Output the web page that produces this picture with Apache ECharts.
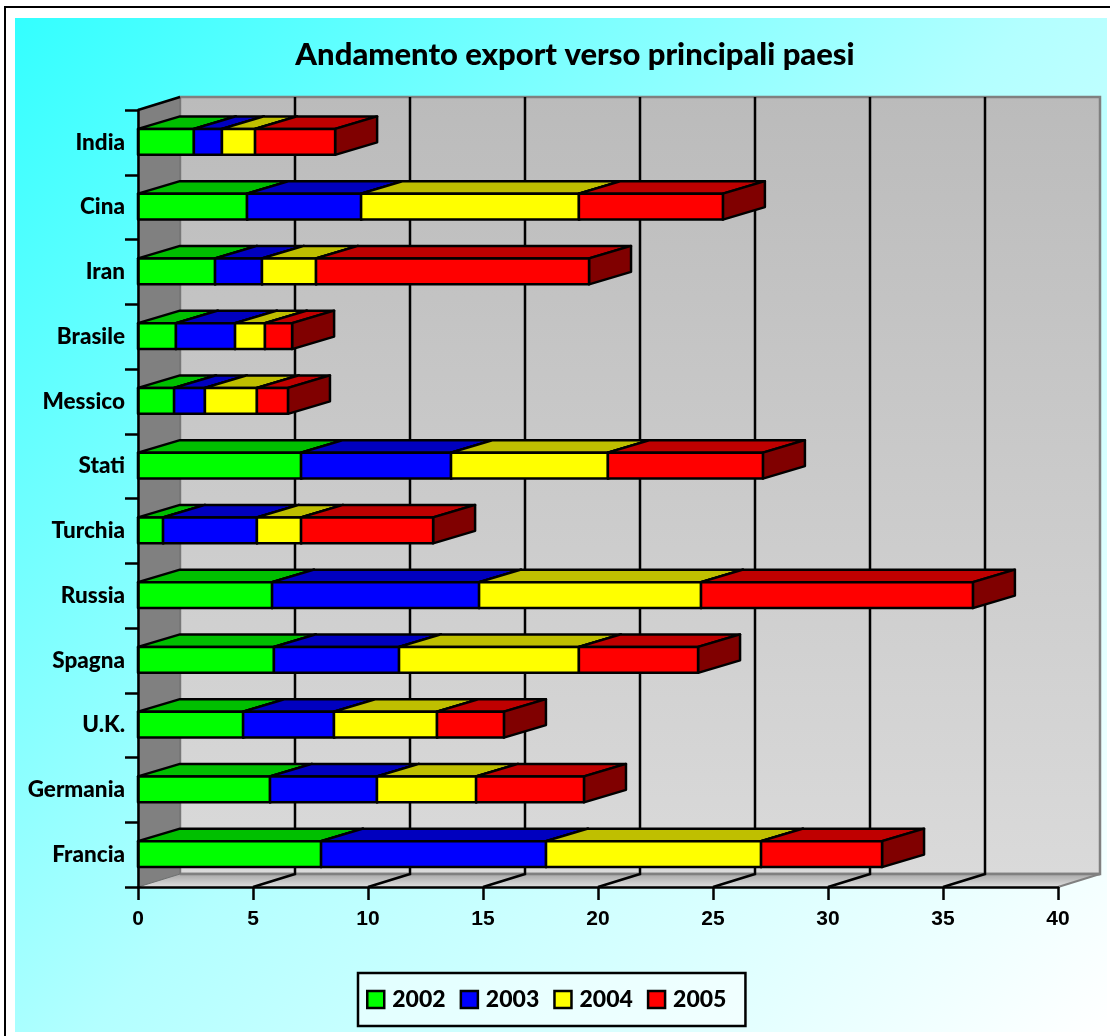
<!DOCTYPE html>
<html lang="it">
<head>
    <meta charset="UTF-8">
    <title>Andamento export verso principali paesi</title>
    <script src="https://cdn.jsdelivr.net/npm/echarts@6/dist/echarts.min.js"></script>
    <style>
        html, body { margin: 0; padding: 0; background: #fff; }
        #chart { width: 1110px; height: 1036px; }
    </style>
</head>
<body>
    <div id="chart"></div>
    <script>
        // paesi dal basso verso l'alto, come sull'asse
        var paesi = ['Francia', 'Germania', 'U.K.', 'Spagna', 'Russia', 'Turchia', 'Stati', 'Messico', 'Brasile', 'Iran', 'Cina', 'India'];
        var anni = ['2002', '2003', '2004', '2005'];

        var v2002 = [7.96, 5.74, 4.57, 5.91, 5.83, 1.09, 7.09, 1.57, 1.65, 3.35, 4.74, 2.43];
        var v2003 = [9.78, 4.65, 3.95, 5.44, 9.00, 4.08, 6.52, 1.34, 2.57, 2.04, 4.96, 1.22];
        var v2004 = [9.35, 4.31, 4.48, 7.82, 9.65, 1.92, 6.82, 2.26, 1.30, 2.35, 9.47, 1.44];
        var v2005 = [5.26, 4.69, 2.91, 5.18, 11.82, 5.74, 6.74, 1.35, 1.18, 11.87, 6.26, 3.48];

        var valori = [v2002, v2003, v2004, v2005];
        var griglia = [5, 10, 15, 20, 25, 30, 35];

        var coloriFronte = ['#00ff00', '#0000ff', '#ffff00', '#ff0000'];
        var coloriSopra = ['#00bf00', '#0000bf', '#bfbf00', '#bf0000'];
        var coloriLato = ['#008000', '#000080', '#808000', '#800000'];

        // spostamento della profondita' 3D
        var DX = 42, DY = -13, BAR_DY = -12.5;

        var chart = echarts.init(document.getElementById('chart'));

        function poly(points, style, z2) {
            return { type: 'polygon', shape: { points: points }, style: style, z2: z2 || 0 };
        }

        // pareti e griglia dietro le barre
        function disegnaPareti(params, api) {
            var r = params.coordSys;
            var l = r.x, t = r.y, b = r.y + r.height, w = r.width;
            var fondo = new echarts.graphic.LinearGradient(0, 0, 0, 1, [
                { offset: 0, color: '#bbbbbb' }, { offset: 1, color: '#dadada' }
            ]);
            var pav = new echarts.graphic.LinearGradient(0, 0, 0, 1, [
                { offset: 0, color: '#a8a8a8' }, { offset: 1, color: '#dedede' }
            ]);
            var figli = [
                { type: 'rect', shape: { x: l + DX, y: t + DY, width: w, height: r.height },
                  style: { fill: fondo, stroke: '#808080', lineWidth: 2.5 } },
                poly([[l, b], [l + DX, b + DY], [l + w + DX, b + DY], [l + w, b]], { fill: pav }),
                { type: 'line', shape: { x1: l + DX, y1: b + DY, x2: l + w + DX, y2: b + DY },
                  style: { stroke: '#808080', lineWidth: 2.5 } },
                { type: 'line', shape: { x1: l + w, y1: b, x2: l + w + DX, y2: b + DY },
                  style: { stroke: '#808080', lineWidth: 2 } },
                poly([[l, t], [l + DX, t + DY], [l + DX, b + DY], [l, b]], { fill: '#808080', stroke: '#6e6e6e', lineWidth: 1 }),
                { type: 'line', shape: { x1: l, y1: t, x2: l + DX, y2: t + DY },
                  style: { stroke: '#000', lineWidth: 2.5 } }
            ];
            griglia.forEach(function (g) {
                var x = api.coord([g, 0])[0];
                figli.push({ type: 'polyline', shape: { points: [[x + DX, t + DY], [x + DX, b + DY], [x, b]] },
                    style: { fill: null, stroke: '#000', lineWidth: 2.5 } });
            });
            return { type: 'group', children: figli, silent: true };
        }

        function disegnaBarra(params, api) {
            var k = params.seriesIndex - 1;
            var i = api.value(2);
            var a = api.coord([api.value(0), i]);
            var c = api.coord([api.value(1), i]);
            var h = api.size([0, 1])[1] * 0.4;
            var x0 = a[0], x1 = c[0], y0 = a[1] - h / 2 - 0.5, y1 = y0 + h;
            var tratto = { stroke: '#000', lineWidth: 2.5, lineJoin: 'round' };
            function st(col) { return Object.assign({ fill: col }, tratto); }
            return {
                type: 'group',
                children: [
                    poly([[x0, y0], [x0 + DX, y0 + BAR_DY], [x1 + DX, y0 + BAR_DY], [x1, y0]], st(coloriSopra[k])),
                    poly([[x1, y0], [x1 + DX, y0 + BAR_DY], [x1 + DX, y1 + BAR_DY], [x1, y1]], st(coloriLato[k])),
                    { type: 'rect', shape: { x: x0, y: y0, width: x1 - x0, height: h }, style: st(coloriFronte[k]) }
                ]
            };
        }

        var serie = [{
            name: 'pareti',
            type: 'custom',
            renderItem: disegnaPareti,
            data: [[0, 0]],
            encode: { x: 0, y: 1 },
            silent: true,
            z: 1
        }];

        // ogni anno parte dove finisce il precedente
        var cumulati = paesi.map(function () { return 0; });
        anni.forEach(function (anno, k) {
            var dati = valori[k].map(function (v, i) {
                var da = cumulati[i];
                cumulati[i] = da + v;
                return [da, cumulati[i], i];
            });
            serie.push({
                name: anno,
                type: 'custom',
                renderItem: disegnaBarra,
                data: dati,
                encode: { x: [0, 1], y: 2 },
                itemStyle: { color: coloriFronte[k] },
                z: 3 + k
            });
        });

        var option = {
            animation: false,
            backgroundColor: '#fff',
            title: {
                text: 'Andamento export verso principali paesi',
                left: 570,
                top: 34,
                textAlign: 'center',
                textStyle: { fontFamily: 'Lato', fontWeight: 900, fontSize: 31, color: '#000' }
            },
            legend: {
                data: anni,
                left: 358,
                top: 973,
                padding: [15, 19, 15, 8],
                itemGap: 14,
                itemWidth: 17,
                itemHeight: 17,
                backgroundColor: 'rgba(255,255,255,0.5)',
                borderColor: '#000',
                borderWidth: 2.5,
                icon: 'rect',
                itemStyle: { borderColor: '#000', borderWidth: 2.5 },
                textStyle: { fontFamily: 'Lato', fontWeight: 900, fontSize: 23, color: '#000', padding: [0, 0, 0, 3] }
            },
            grid: { left: 138, top: 110, width: 920, height: 777 },
            xAxis: {
                type: 'value',
                min: 0,
                max: 40,
                interval: 5,
                z: 10,
                splitLine: { show: false },
                axisLine: { show: true, lineStyle: { color: '#000', width: 2.5 } },
                axisTick: { show: true, length: 13, lineStyle: { color: '#000', width: 2.5 } },
                axisLabel: { margin: 22, fontFamily: 'Liberation Sans', fontWeight: 'bold', fontSize: 21, color: '#000' }
            },
            yAxis: {
                type: 'category',
                data: paesi,
                z: 10,
                axisLine: { show: true, lineStyle: { color: '#000', width: 2.5 } },
                axisTick: { show: true, length: 13, lineStyle: { color: '#000', width: 2.5 } },
                axisLabel: { interval: 0, margin: 13, fontFamily: 'Lato', fontWeight: 900, fontSize: 22.5, color: '#000' }
            },
            graphic: [
                // sfondo sfumato e cornice
                { type: 'rect', z: -10, shape: { x: 15, y: 18, width: 1092, height: 1014 },
                  style: { fill: new echarts.graphic.LinearGradient(0, 0, 1, 1, [
                      { offset: 0, color: '#33ffff' }, { offset: 0.5, color: '#b3ffff' }, { offset: 1, color: '#ffffff' }
                  ]) } },
                { type: 'polyline', z: -9, shape: { points: [[5, 1036], [5, 7], [1110, 7]] },
                  style: { fill: null, stroke: '#000', lineWidth: 2 } }
            ],
            series: serie
        };

        chart.setOption(option);
    </script>
</body>
</html>
